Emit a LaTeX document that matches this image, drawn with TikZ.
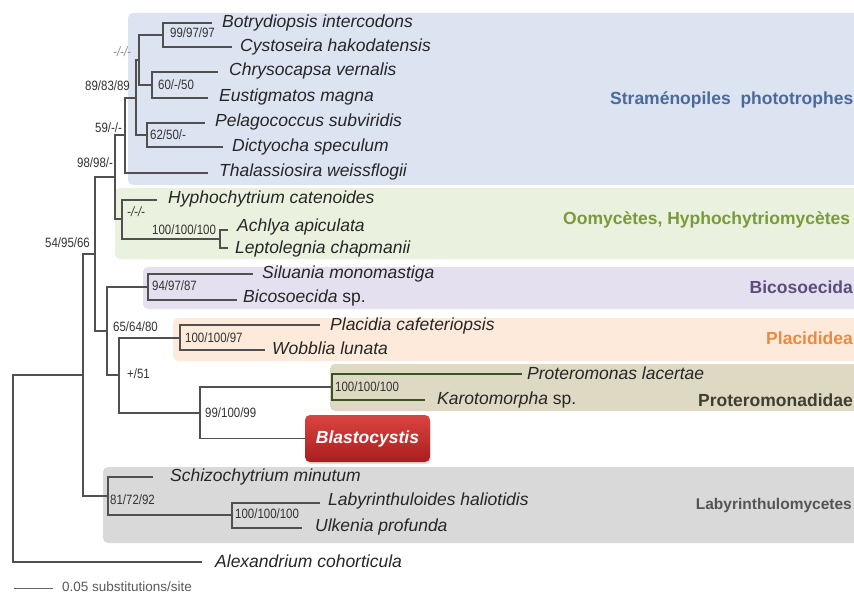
\documentclass[tikz,border=0pt]{standalone}
\usepackage{fontspec}
\setmainfont{Liberation Sans}
\newfontfamily\bsfont[FakeStretch=0.85]{Liberation Sans}
\usetikzlibrary{shadows}
\definecolor{boxblue}{HTML}{DCE3F1}
\definecolor{boxgreen}{HTML}{EBF1DF}
\definecolor{boxlav}{HTML}{E5E0EF}
\definecolor{boxpeach}{HTML}{FDEADB}
\definecolor{boxtan}{HTML}{DDD9C3}
\definecolor{boxgrey}{HTML}{D9D9D9}
\definecolor{treegrey}{HTML}{505050}
\definecolor{protgreen}{HTML}{3B5323}
\definecolor{gblue}{HTML}{4A6A9C}
\definecolor{ggreen}{HTML}{7A9A3C}
\definecolor{gpurple}{HTML}{5C4D7D}
\definecolor{gorange}{HTML}{E98B3F}
\definecolor{golive}{HTML}{3F3F2F}
\definecolor{ggrey}{HTML}{555555}
\definecolor{redtop}{HTML}{DA4440}
\definecolor{redbot}{HTML}{A81E1E}
\begin{document}
\begin{tikzpicture}[x=1pt,y=-1pt,
  branch/.style={draw=treegrey, line width=1.2pt},
  taxon/.style={anchor=west, inner sep=0pt, font=\fontsize{17.5}{20}\selectfont\itshape, text=black!85, text height=12.5pt, text depth=3.5pt},
  bs/.style={anchor=west, inner sep=0pt, font={\bsfont\fontsize{13.5}{15}\selectfont}, text=black!80, text height=9.5pt, text depth=0.5pt},
  grp/.style={inner sep=0pt, font=\fontsize{17.5}{20}\selectfont\bfseries, text height=12.5pt, text depth=3.5pt},
  band/.style={rounded corners=5pt}
]
\useasboundingbox (0,0) rectangle (854,596);
\clip (0,0) rectangle (854,596);
\fill[white] (0,0) rectangle (854,596);
% coloured bands
\fill[boxblue, band] (128,13) rectangle (880,185);
\fill[boxgreen, band] (115,188) rectangle (880,259);
\fill[boxlav, band] (143,267) rectangle (880,309);
\fill[boxpeach, band] (173,318) rectangle (880,361);
\fill[boxtan, band] (330,364) rectangle (880,411);
\fill[boxgrey, band] (103,467) rectangle (880,543);

% tips
\coordinate (tBot) at (212,23);
\coordinate (tCys) at (232,47);
\coordinate (tChr) at (218,72);
\coordinate (tEus) at (208,98);
\coordinate (tPel) at (205,123);
\coordinate (tDic) at (223,147);
\coordinate (tTha) at (208,173);
\coordinate (tHyp) at (157,200);
\coordinate (tAch) at (228,230);
\coordinate (tLep) at (228,248);
\coordinate (tSil) at (253,274);
\coordinate (tBic) at (237,300);
\coordinate (tPla) at (320,325);
\coordinate (tWob) at (265,350);
\coordinate (tPro) at (522,374);
\coordinate (tKar) at (425,400);
\coordinate (tSch) at (153,477);
\coordinate (tLab) at (320,503);
\coordinate (tUlk) at (302,528);
\coordinate (tAle) at (202,562);
% internal nodes
\coordinate (nBC) at (163,35);
\coordinate (nCE) at (152,85);
\coordinate (nB) at (139,60);
\coordinate (nPD) at (147,135);
\coordinate (nA) at (136,98);
\coordinate (nC) at (125,135);
\coordinate (nAL) at (220,239);
\coordinate (nE) at (122,219);
\coordinate (nD) at (115,177);
\coordinate (nSB) at (148,287);
\coordinate (nPW) at (180,338);
\coordinate (nPK) at (332,387);
\coordinate (nI) at (200,413);
\coordinate (nH) at (119,375);
\coordinate (nG) at (107,331);
\coordinate (nF) at (95,254);
\coordinate (nLU) at (232,515);
\coordinate (nL) at (108,496);
\coordinate (nJ) at (83,375);
\coordinate (root) at (13,468);

% Blastocystis
\node[draw=none, rounded corners=5pt, top color=redtop, bottom color=redbot,
      minimum width=125pt, minimum height=47pt, inner sep=0pt,
      drop shadow={opacity=0.25, shadow xshift=1pt, shadow yshift=-2pt},
      font=\fontsize{17.5}{20}\selectfont\bfseries\itshape, text=white] (bla) at (367.5,438.5) {Blastocystis};

% branches
\draw[branch] (nBC) |- (tBot) (nBC) |- (tCys);
\draw[branch] (nCE) |- (tChr) (nCE) |- (tEus);
\draw[branch] (nB) |- (nBC) (nB) |- (nCE);
\draw[branch] (nPD) |- (tPel) (nPD) |- (tDic);
\draw[branch] (nA) |- (nB) (nA) |- (nPD);
\draw[branch] (nC) |- (nA) (nC) |- (tTha);
\draw[branch] (nAL) |- (tAch) (nAL) |- (tLep);
\draw[branch] (nE) |- (tHyp) (nE) |- (nAL);
\draw[branch] (nD) |- (nC) (nD) |- (nE);
\draw[branch] (nSB) |- (tSil) (nSB) |- (tBic);
\draw[branch] (nPW) |- (tPla) (nPW) |- (tWob);
\draw[branch, draw=protgreen] (nPK) |- (tPro) (nPK) |- (tKar);
\draw[branch] (nI) |- (nPK) (nI) |- (bla.west);
\draw[branch] (nH) |- (nPW) (nH) |- (nI);
\draw[branch] (nG) |- (nSB) (nG) |- (nH);
\draw[branch] (nF) |- (nD) (nF) |- (nG);
\draw[branch] (nLU) |- (tLab) (nLU) |- (tUlk);
\draw[branch] (nL) |- (tSch) (nL) |- (nLU);
\draw[branch] (nJ) |- (nF) (nJ) |- (nL);
\draw[branch] (root) |- (nJ) (root) |- (tAle);

% taxa
\node[taxon] (lBot) at (222,23) {Botrydiopsis intercodons};
\node[taxon] (lCys) at (240,47) {Cystoseira hakodatensis};
\node[taxon] (lChr) at (229,71) {Chrysocapsa vernalis};
\node[taxon] (lEus) at (219,97) {Eustigmatos magna};
\node[taxon] (lPel) at (215,122) {Pelagococcus subviridis};
\node[taxon] (lDic) at (232,147) {Dictyocha speculum};
\node[taxon] (lTha) at (219,172) {Thalassiosira weissflogii};
\node[taxon] (lHyp) at (168,199) {Hyphochytrium catenoides};
\node[taxon] (lAch) at (237,227) {Achlya apiculata};
\node[taxon] (lLep) at (235,249) {Leptolegnia chapmanii};
\node[taxon] (lSil) at (262,274) {Siluania monomastiga};
\node[taxon] (lBic) at (243,298) {Bicosoecida \textup{sp.}};
\node[taxon] (lPla) at (330,326) {Placidia cafeteriopsis};
\node[taxon] (lWob) at (272,350) {Wobblia lunata};
\node[taxon] (lPro) at (527,375) {Proteromonas lacertae};
\node[taxon] (lKar) at (437,400) {Karotomorpha \textup{sp.}};
\node[taxon] (lSch) at (170,477) {Schizochytrium minutum};
\node[taxon] (lLab) at (328,501) {Labyrinthuloides haliotidis};
\node[taxon] (lUlk) at (315,527) {Ulkenia profunda};
\node[taxon] (lAle) at (215,563) {Alexandrium cohorticula};

% support values
\node[bs] (b1) at (170,33) {99/97/97};
\node[bs, text=black!45, font={\bsfont\fontsize{13.5}{15}\selectfont\itshape}] (b2) at (113,52) {-/-/-};
\node[bs] (b3) at (158,85) {60/-/50};
\node[bs] (b4) at (85,86) {89/83/89};
\node[bs] (b5) at (150,135) {62/50/-};
\node[bs] (b6) at (95,128) {59/-/-};
\node[bs] (b7) at (77,163) {98/98/-};
\node[bs, font={\bsfont\fontsize{13.5}{15}\selectfont\itshape}] (b8) at (127,212) {-/-/-};
\node[bs] (b9) at (152,230) {100/100/100};
\node[bs] (b10) at (45,243) {54/95/66};
\node[bs] (b11) at (152,286) {94/97/87};
\node[bs] (b12) at (113,327) {65/64/80};
\node[bs] (b13) at (185,338) {100/100/97};
\node[bs] (b14) at (127,374) {+/51};
\node[bs] (b15) at (335,387) {100/100/100};
\node[bs] (b16) at (205,413) {99/100/99};
\node[bs] (b17) at (110,500) {81/72/92};
\node[bs] (b18) at (235,514) {100/100/100};

% group labels
\node[grp, anchor=west, text=gblue] (g1) at (610,100) {Stram\'enopiles\ \ phototrophes};
\node[grp, anchor=west, text=ggreen] (g2) at (563,220) {Oomyc\`etes, Hyphochytriomyc\`etes};
\node[grp, anchor=east, text=gpurple] (g3) at (853,289) {Bicosoecida};
\node[grp, anchor=east, text=gorange] (g4) at (853,340) {Placididea};
\node[grp, anchor=east, text=golive] (g5) at (853,402) {Proteromonadidae};
\node[grp, anchor=east, text=ggrey, font=\fontsize{15.5}{18}\selectfont\bfseries] (g6) at (852,505) {Labyrinthulomycetes};

% scale bar
\coordinate (s1) at (14,588);
\coordinate (s2) at (53,588);
\draw[draw=black!60, line width=0.8pt] (s1) -- (s2);
\node[anchor=west, inner sep=0pt, font=\fontsize{13.5}{15}\selectfont, text=black!65, text height=9.5pt, text depth=2.5pt] (sc) at (62,588) {0.05 substitutions/site};
\end{tikzpicture}
\end{document}
